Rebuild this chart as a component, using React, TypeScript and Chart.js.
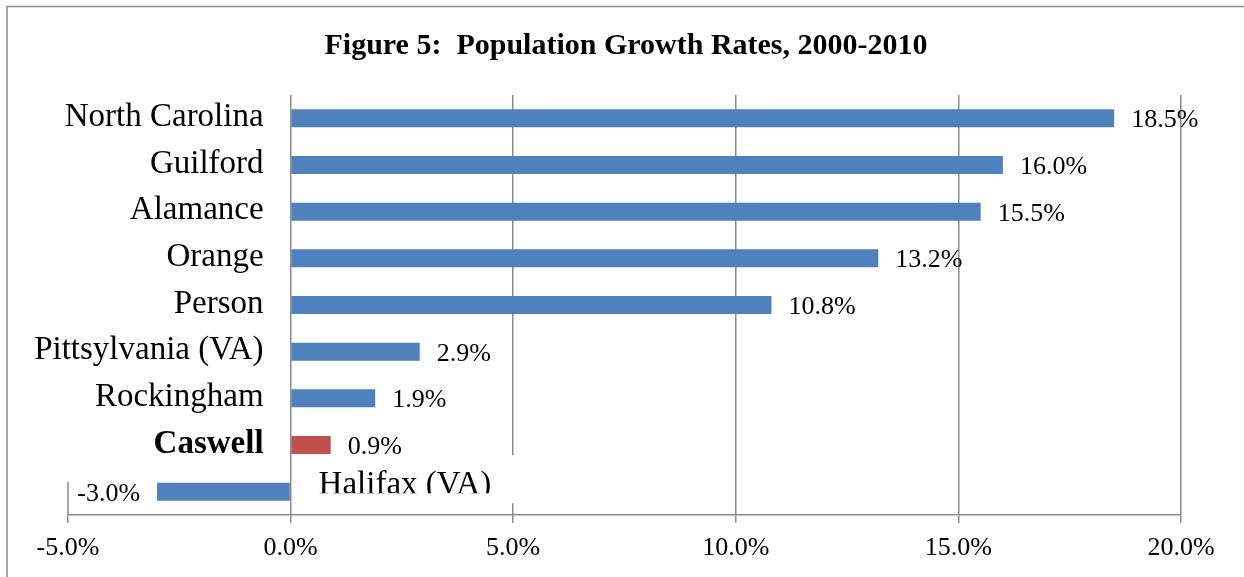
import React, { useEffect, useRef } from 'react';
import { Chart, registerables } from 'chart.js';

Chart.register(...registerables);

const TITLE = 'Figure 5:  Population Growth Rates, 2000-2010';
const categories = [
  'North Carolina',
  'Guilford',
  'Alamance',
  'Orange',
  'Person',
  'Pittsylvania (VA)',
  'Rockingham',
  'Caswell',
  'Halifax (VA)',
];
const growthRates = [18.5, 16.0, 15.5, 13.2, 10.8, 2.9, 1.9, 0.9, -3.0];
const highlightedCategory = 'Caswell';
const labelOnRightCategory = 'Halifax (VA)';
const xTickValues = [-5, 0, 5, 10, 15, 20];

const FONT = '"Liberation Serif", "Times New Roman", serif';
const BLUE = '#4F81BD';
const RED = '#C0504D';
const GRID = '#8a8a8a';

const overlayPlugin = {
  id: 'overlay',
  beforeDraw(chart: any) {
    const ctx = chart.ctx;
    ctx.save();
    ctx.fillStyle = '#fff';
    ctx.fillRect(0, 0, chart.width, chart.height);
    ctx.strokeStyle = GRID;
    ctx.lineWidth = 1.5;
    ctx.beginPath();
    ctx.moveTo(7, chart.height);
    ctx.lineTo(7, 6.5);
    ctx.lineTo(chart.width, 6.5);
    ctx.stroke();
    ctx.font = `bold 30px ${FONT}`;
    ctx.textAlign = 'center';
    ctx.textBaseline = 'alphabetic';
    ctx.fillStyle = '#000';
    ctx.fillText(TITLE, 626, 54);
    ctx.restore();
  },
  beforeDatasetsDraw(chart: any) {
    const ctx = chart.ctx;
    const xs = chart.scales.x;
    const meta = chart.getDatasetMeta(0);
    const last = meta.data[meta.data.length - 1];
    if (!last) return;
    const { y, height } = last.getProps(['y', 'height'], true);
    const xm5 = xs.getPixelForValue(xTickValues[0]);
    ctx.save();
    ctx.strokeStyle = GRID;
    ctx.lineWidth = 1.5;
    ctx.beginPath();
    ctx.moveTo(xm5, y - height / 2 - 1);
    ctx.lineTo(xm5, chart.chartArea.bottom);
    ctx.stroke();
    ctx.restore();
  },
  afterDatasetsDraw(chart: any) {
    const ctx = chart.ctx;
    const xs = chart.scales.x;
    const meta = chart.getDatasetMeta(0);
    const x0 = xs.getPixelForValue(0);
    ctx.save();
    meta.data.forEach((bar: any, i: number) => {
      const { x, y } = bar.getProps(['x', 'y'], true);
      const v = growthRates[i];
      const name = categories[i];
      ctx.fillStyle = '#000';
      ctx.textBaseline = 'alphabetic';
      if (name === labelOnRightCategory) {
        ctx.fillStyle = '#fff';
        ctx.fillRect(x0 + 8, y - 36.5, 235, 48);
        ctx.save();
        ctx.beginPath();
        ctx.rect(x0 + 8, y - 40, 300, 41.5);
        ctx.clip();
        ctx.fillStyle = '#000';
        ctx.font = `33px ${FONT}`;
        ctx.textAlign = 'left';
        ctx.fillText(name, x0 + 28, y + 2.5);
        ctx.restore();
      } else {
        ctx.font = `${name === highlightedCategory ? 'bold ' : ''}33px ${FONT}`;
        ctx.textAlign = 'right';
        ctx.fillStyle = '#000';
        ctx.fillText(name, x0 - 27, y + 7.5);
      }
      ctx.font = `26px ${FONT}`;
      ctx.fillStyle = '#000';
      const label = v.toFixed(1) + '%';
      if (v >= 0) {
        ctx.textAlign = 'left';
        ctx.fillText(label, x + 17, y + 9);
      } else {
        ctx.textAlign = 'right';
        ctx.fillText(label, x - 17, y + 9);
      }
    });
    ctx.restore();
  },
};

export default function App() {
  const canvasRef = useRef<HTMLCanvasElement | null>(null);

  useEffect(() => {
    const canvas = canvasRef.current;
    if (!canvas) return;
    const chart = new Chart(canvas, {
      type: 'bar',
      data: {
        labels: categories,
        datasets: [
          {
            data: growthRates,
            backgroundColor: categories.map((c) => (c === highlightedCategory ? RED : BLUE)),
            borderWidth: 0,
            barPercentage: 0.386,
            categoryPercentage: 1,
          },
        ],
      },
      options: {
        indexAxis: 'y',
        responsive: false,
        animation: false,
        devicePixelRatio: 1,
        layout: { padding: { left: 68, right: 63, top: 95, bottom: 0 } },
        plugins: {
          legend: { display: false },
          title: { display: false },
          tooltip: { enabled: false },
        },
        scales: {
          y: { type: 'category', display: false, offset: true },
          x: {
            type: 'linear',
            min: -5,
            max: 20,
            afterBuildTicks: (s: any) => {
              s.ticks = xTickValues.map((v) => ({ value: v }));
            },
            afterFit: (s: any) => {
              s.height = 62;
            },
            ticks: {
              callback: (v: any) => Number(v).toFixed(1) + '%',
              font: { size: 26, family: FONT },
              color: '#000',
              padding: 10,
              maxRotation: 0,
              autoSkip: false,
            },
            grid: {
              color: (c: any) => (c.tick && c.tick.value === xTickValues[0] ? 'rgba(0,0,0,0)' : GRID),
              tickColor: GRID,
              lineWidth: 1.5,
              tickLength: 8,
            },
            border: { color: GRID, width: 1.5 },
          },
        },
      },
      plugins: [overlayPlugin],
    });
    return () => chart.destroy();
  }, []);

  return (
    <div style={{ position: 'absolute', left: 0, top: 0, width: 1244, height: 577, background: '#fff' }}>
      <canvas ref={canvasRef} width={1244} height={577} style={{ display: 'block' }} />
    </div>
  );
}
